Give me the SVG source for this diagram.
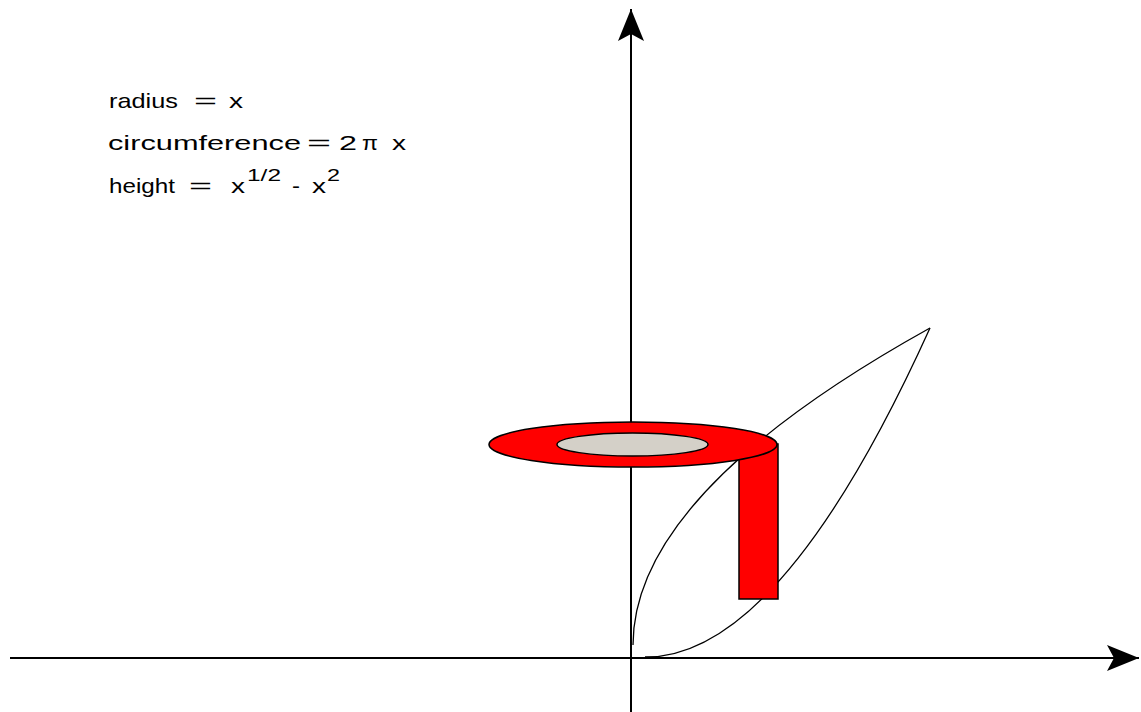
<svg xmlns="http://www.w3.org/2000/svg" width="1141" height="712" viewBox="0 0 1141 712">
<style>
.ax{stroke:#000;stroke-width:2;fill:none}
.cv{stroke:#000;stroke-width:1.3;fill:none}
.red{fill:#ff0000;stroke:#000;stroke-width:1.5}
.hole{fill:#d4d0c8;stroke:#000;stroke-width:1.5}
.t{font-family:"Liberation Sans",Arial,sans-serif;font-size:21px;fill:#000}
.s{font-family:"Liberation Sans",Arial,sans-serif;font-size:17px;fill:#000}
</style>
<defs>
<marker id="arr" markerUnits="userSpaceOnUse" markerWidth="40" markerHeight="30" viewBox="-34 -15 40 30" refX="0" refY="0" orient="auto" overflow="visible">
<path d="M0,0 L-32,-13 L-25,0 L-32,13 Z" fill="#000"/>
</marker>
</defs>
<rect width="1141" height="712" fill="#fff"/>
<g id="connectors">
<line class="ax" x1="631" y1="712" x2="631" y2="9" marker-end="url(#arr)"/>
<line class="ax" x1="10" y1="658" x2="1139" y2="658" marker-end="url(#arr)"/>
</g>
<g id="curves">
<path class="cv" d="M633,645 Q633,493 930,328"/>
<path class="cv" d="M645,657 Q780.5,658 930,328"/>
</g>
<g id="column">
<rect class="red" x="739" y="444" width="39" height="155"/>
</g>
<g id="ring">
<ellipse class="red" cx="633" cy="444.5" rx="144" ry="22.5"/>
<ellipse class="hole" cx="632.5" cy="444.5" rx="75.5" ry="11.5"/>
</g>
<g id="labels">
<text class="t" x="109" y="108" textLength="69" lengthAdjust="spacingAndGlyphs">radius</text>
<text class="t" x="194" y="108" textLength="23" lengthAdjust="spacingAndGlyphs">=</text>
<text class="t" x="229" y="108" textLength="14" lengthAdjust="spacingAndGlyphs">x</text>
<text class="t" x="108" y="150" textLength="193" lengthAdjust="spacingAndGlyphs">circumference</text>
<text class="t" x="307" y="150" textLength="24" lengthAdjust="spacingAndGlyphs">=</text>
<text class="t" x="339" y="150" textLength="18" lengthAdjust="spacingAndGlyphs">2</text>
<text class="t" x="362" y="150" textLength="16" lengthAdjust="spacingAndGlyphs">π</text>
<text class="t" x="392" y="150" textLength="14" lengthAdjust="spacingAndGlyphs">x</text>
<text class="t" x="109" y="193" textLength="66" lengthAdjust="spacingAndGlyphs">height</text>
<text class="t" x="189" y="193" textLength="23" lengthAdjust="spacingAndGlyphs">=</text>
<text class="t" x="231" y="193" textLength="14" lengthAdjust="spacingAndGlyphs">x</text>
<text class="s" x="247" y="181" textLength="34" lengthAdjust="spacingAndGlyphs">1/2</text>
<text class="t" x="292" y="193" textLength="8" lengthAdjust="spacingAndGlyphs">-</text>
<text class="t" x="312" y="193" textLength="14" lengthAdjust="spacingAndGlyphs">x</text>
<text class="s" x="327" y="181" textLength="13" lengthAdjust="spacingAndGlyphs">2</text>
</g>
</svg>
